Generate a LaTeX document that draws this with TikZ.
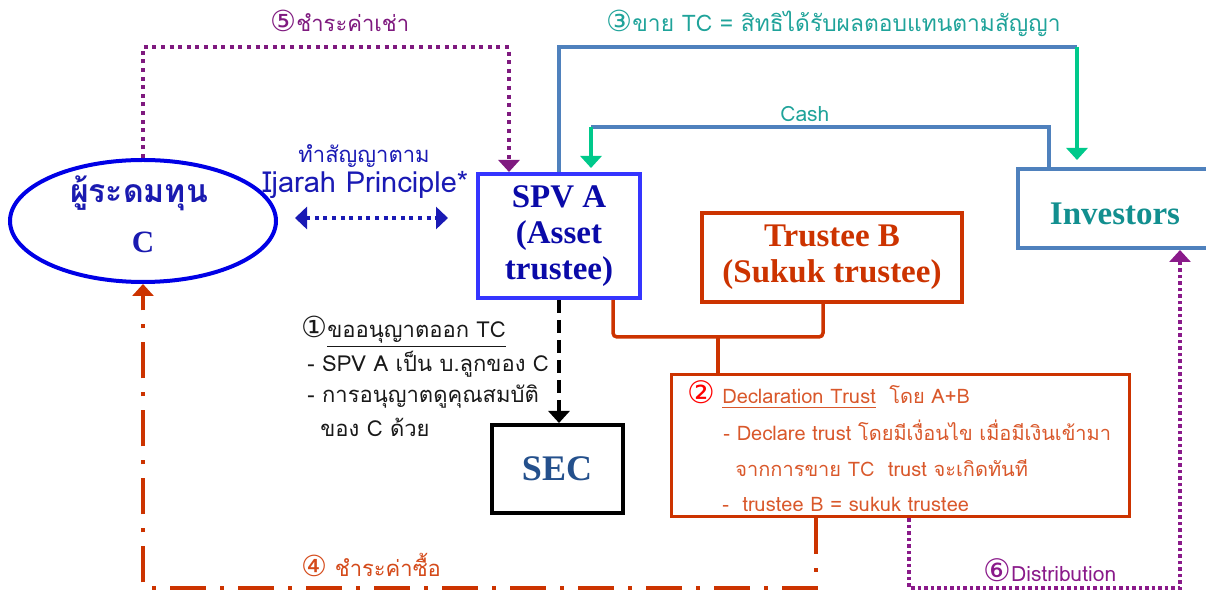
\documentclass[tikz,border=0pt]{standalone}
\usepackage{fontspec}
\setmainfont{Liberation Serif}
\newfontfamily\thaifont[Script=Thai]{Loma}
\newfontfamily\circfont{DejaVu Sans}
\usetikzlibrary{arrows.meta,shapes.geometric,positioning}

\definecolor{ellblue}{HTML}{0000E6}
\definecolor{cblue}{HTML}{1A1AB0}
\definecolor{ijblue}{HTML}{1A1AB4}
\definecolor{spvblue}{HTML}{3535FF}
\definecolor{spvtext}{HTML}{0A0AA8}
\definecolor{trustred}{HTML}{CC3300}
\definecolor{decltext}{HTML}{D9582B}
\definecolor{steel}{HTML}{4F81BD}
\definecolor{invteal}{HTML}{128F8F}
\definecolor{labteal}{HTML}{1FA39A}
\definecolor{flowgreen}{HTML}{00C98B}
\definecolor{rentpurple}{HTML}{7F1A7F}
\definecolor{distpurple}{HTML}{8A1A8A}
\definecolor{secblue}{HTML}{24508C}
\definecolor{buyred}{HTML}{D44A1A}

\newcommand{\cnum}[2][14.5]{{\circfont\fontsize{#1}{#1}\selectfont #2}}

\begin{document}
\begin{tikzpicture}[x=0.5pt,y=-0.5pt,
  box/.style={draw,line width=2pt,inner sep=0pt,align=center,
    font=\bfseries\fontsize{16.5}{18}\selectfont},
  lbl/.style={anchor=base west,inner sep=0pt,font=\thaifont\fontsize{11}{13}\selectfont},
  dtext/.style={lbl,text=decltext,font=\thaifont\fontsize{10}{12}\selectfont},
  ntext/.style={lbl,text=black!90,font=\thaifont\fontsize{11}{12}\selectfont},
  tip/.style={-{Triangle[width=10.5pt,length=6pt]}},
  rent/.style={draw=rentpurple,line width=2pt,dash pattern=on 2pt off 2.3pt,tip},
  ijarah/.style={draw=ijblue,line width=2pt,dash pattern=on 2pt off 2.3pt,
    {Triangle[width=11pt,length=6pt]}-{Triangle[width=11pt,length=6pt]}},
  sell/.style={draw=steel,line width=1.75pt},
  flow/.style={draw=flowgreen,line width=1.75pt,tip},
  permit/.style={draw=black,line width=2pt,dash pattern=on 6.5pt off 3.5pt,tip},
  buy/.style={draw=trustred,line width=2pt,dash pattern=on 18pt off 7pt on 2pt off 7pt,tip},
  dist/.style={draw=distpurple,line width=1.75pt,dash pattern=on 1.75pt off 1.5pt,tip},
  fork/.style={draw=trustred,line width=1.75pt,rounded corners=2pt}]

\path[use as bounding box] (0,0) rectangle (1206,592);
\clip (0,0) rectangle (1206,592);

% parties
\node[ellipse,draw=ellblue,line width=2pt,minimum width=133pt,minimum height=61pt,inner sep=0pt] (c) at (143,221) {};
\node[anchor=base,inner sep=0pt,text=cblue,font=\thaifont\bfseries\fontsize{16}{18}\selectfont] (c_name) at (139,203) {ผู้ระดมทุน};
\node[anchor=base,inner sep=0pt,text=cblue,font=\bfseries\fontsize{15.5}{18}\selectfont] (c_id) at (143,253) {C};

\node[box,draw=spvblue,text=spvtext,minimum width=81pt,minimum height=62pt] (spv_a) at (559,236) {SPV A\\(Asset\\trustee)};
\node[box,draw=trustred,text=trustred,minimum width=130pt,minimum height=44.5pt] (trustee_b) at (832,257.5) {Trustee B\\(Sukuk trustee)};
\node[box,draw=steel,text=invteal,minimum width=97pt,minimum height=39.5pt,text height=16.4pt] (investors) at (1115,208.5) {Investors};
\node[box,draw=black,text=secblue,minimum width=65.5pt,minimum height=44pt,
  font=\bfseries\fontsize{18}{20}\selectfont] (sec) at (557,469) {SEC};
\node[draw=trustred,line width=1.5pt,minimum width=229pt,minimum height=71pt,inner sep=0pt] (decl) at (900,446) {};

% declaration text
\node[lbl,text=red] (d_no) at (687,404) {\cnum[15.5]{②}};
\node[dtext] (d1) at (722,404) {\underline{Declaration Trust}\ \ โดย A+B};
\node[dtext] (d2) at (723,441) {- Declare trust โดยมีเงื่อนไข เมื่อมีเงินเข้ามา};
\node[dtext] (d3) at (735,477) {จากการขาย TC\ \ trust จะเกิดทันที};
\node[dtext] (d4) at (722,512) {-\ \ trustee B = sukuk trustee};

% permit text
\node[ntext] (n1) at (301,338) {\cnum{①}\underline{ขออนุญาตออก TC}};
\node[ntext] (n2) at (307,372) {- SPV A เป็น บ.ลูกของ C};
\node[ntext] (n3) at (307,403) {- การอนุญาตดูคุณสมบัติ};
\node[ntext] (n4) at (320,437) {ของ C ด้วย};

% flow labels
\node[lbl,text=rentpurple] (l_rent) at (270,32) {\cnum{⑤}ชำระค่าเช่า};
\node[lbl,text=labteal,font=\thaifont\fontsize{11.4}{13}\selectfont] (l_sell) at (606,32) {\cnum{③}ขาย TC = สิทธิได้รับผลตอบแทนตามสัญญา};
\node[lbl,text=labteal,font=\thaifont\fontsize{10.5}{12}\selectfont] (l_cash) at (780,122) {Cash};
\node[lbl,text=ijblue] (l_ij1) at (298,163) {ทำสัญญาตาม};
\node[lbl,text=ijblue,font=\thaifont\fontsize{14.5}{16}\selectfont] (l_ij2) at (262,193) {Ijarah Principle*};
\node[lbl,text=buyred] (l_buy) at (301,577) {\cnum{④} ชำระค่าซื้อ};
\node[lbl,text=distpurple,font=\thaifont\fontsize{10.5}{12}\selectfont] (l_dist) at (983,582) {\cnum[15.5]{⑥}Distribution};

% corner points
\coordinate (rent_r) at (509,47);
\coordinate (sell_r) at (1077,47);
\coordinate (cash_r) at (1049,127);
\coordinate (cash_l) at (591,127);
\coordinate (ij_l) at (295,218);
\coordinate (ij_r) at (448,218);
\coordinate (fork_l) at (613,337);
\coordinate (fork_r) at (823,337);
\coordinate (fork_m) at (718,337);
\coordinate (buy_r) at (816,588);
\coordinate (dist_l) at (909,588);
\coordinate (dist_r) at (1180,588);

\draw[rent] (c.north) |- (rent_r) -- (rent_r |- spv_a.north);
\draw[sell] (spv_a.north) |- (sell_r);
\draw[flow] (sell_r) -- ([yshift=3.5pt]sell_r |- investors.north);
\draw[sell] (cash_r |- investors.north) -- (cash_r) -- (cash_l);
\draw[flow] (cash_l) -- ([yshift=2pt]cash_l |- spv_a.north);
\draw[ijarah] (ij_l) -- (ij_r);
\draw[permit] (spv_a.south) -- (spv_a.south |- sec.north);
\draw[fork] (fork_l |- spv_a.south) -- (fork_l) -- (fork_r) -- (fork_r |- trustee_b.south);
\draw[fork] (fork_m) -- (fork_m |- decl.north);
\draw[buy] (buy_r |- decl.south) -- (buy_r) -| (c.south);
\draw[dist] (dist_l |- decl.south) -- (dist_l) -- (dist_r) -- (dist_r |- investors.south);
\end{tikzpicture}
\end{document}
